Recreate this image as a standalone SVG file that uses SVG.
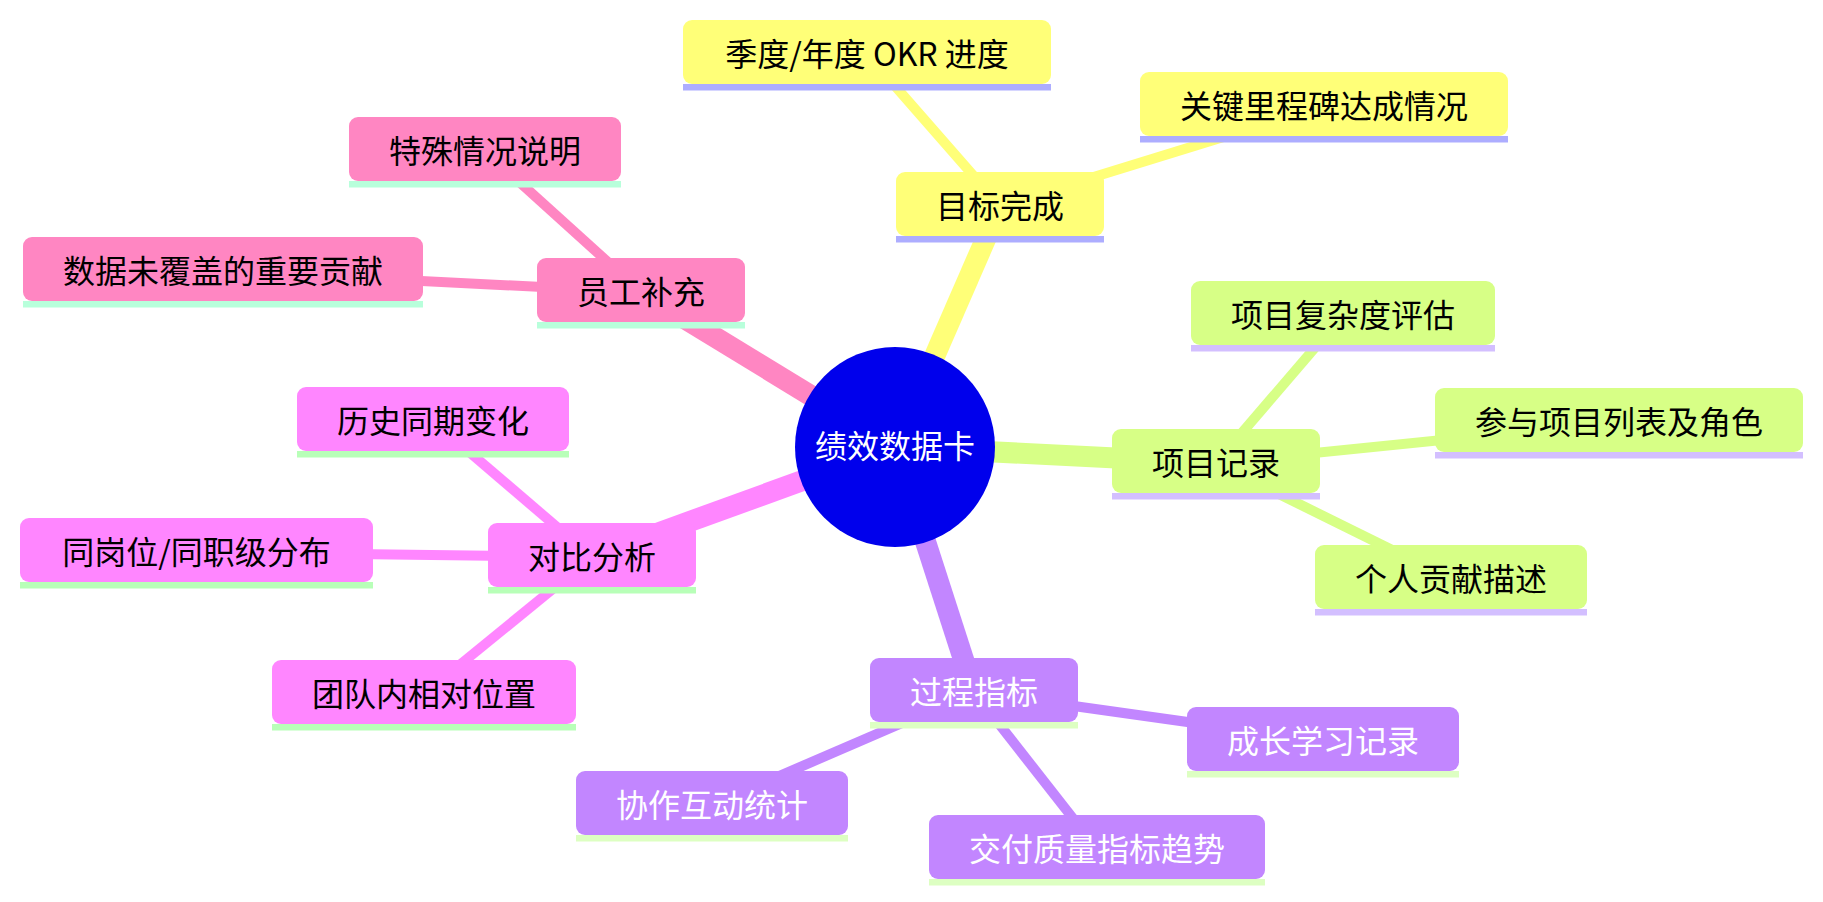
<svg xmlns="http://www.w3.org/2000/svg" width="1823" height="902" viewBox="0 0 1823 902">
<style>
text{font-family:"Noto Sans CJK SC","Noto Sans",sans-serif;font-size:32px;text-anchor:middle}
.s0{fill:#ffff78}.s0u{fill:#adadff}.e0{stroke:#ffff78}
.s1{fill:#d7ff86}.s1u{fill:#d3bfff}.e1{stroke:#d7ff86}
.s2{fill:#c286ff}.s2u{fill:#ddffc2}.e2{stroke:#c286ff}
.s3{fill:#ff86ff}.s3u{fill:#b8ffb8}.e3{stroke:#ff86ff}
.s4{fill:#ff86c2}.s4u{fill:#b8ffdb}.e4{stroke:#ff86c2}
.d0{stroke-width:21;fill:none}.d1{stroke-width:10;fill:none}
.dark{fill:#000}.light{fill:#fff}
</style>
<rect width="1823" height="902" fill="#fff"/>
<g id="connectors">
<line class="e0 d0" x1="895" y1="447" x2="1000" y2="206"/>
<line class="e1 d0" x1="895" y1="447" x2="1216" y2="463"/>
<line class="e2 d0" x1="895" y1="447" x2="974" y2="692"/>
<line class="e3 d0" x1="895" y1="447" x2="592" y2="557"/>
<line class="e4 d0" x1="895" y1="447" x2="641" y2="292"/>
<line class="e0 d1" x1="1000" y1="206" x2="867" y2="54"/>
<line class="e0 d1" x1="1000" y1="206" x2="1324" y2="106"/>
<line class="e1 d1" x1="1216" y1="463" x2="1343" y2="315"/>
<line class="e1 d1" x1="1216" y1="463" x2="1619" y2="422"/>
<line class="e1 d1" x1="1216" y1="463" x2="1451" y2="579"/>
<line class="e2 d1" x1="974" y1="692" x2="1323" y2="741"/>
<line class="e2 d1" x1="974" y1="692" x2="712" y2="805"/>
<line class="e2 d1" x1="974" y1="692" x2="1097" y2="849"/>
<line class="e3 d1" x1="592" y1="557" x2="433" y2="421"/>
<line class="e3 d1" x1="592" y1="557" x2="196" y2="552"/>
<line class="e3 d1" x1="592" y1="557" x2="424" y2="694"/>
<line class="e4 d1" x1="641" y1="292" x2="485" y2="151"/>
<line class="e4 d1" x1="641" y1="292" x2="223" y2="271"/>
</g>
<g id="root">
<circle cx="895" cy="447" r="100" fill="#0000ec"/>
<text class="light" x="895" y="458">绩效数据卡</text>
</g>
<g id="n-goal">
<rect class="s0" x="896" y="172" width="208" height="64" rx="9"/>
<rect class="s0u" x="896" y="236" width="208" height="6.5"/>
<text class="dark" x="1000" y="218">目标完成</text>
</g>
<g id="n-okr">
<rect class="s0" x="683" y="20" width="368" height="64" rx="9"/>
<rect class="s0u" x="683" y="84" width="368" height="6.5"/>
<text class="dark" x="867" y="66">季度/年度 OKR 进度</text>
</g>
<g id="n-milestone">
<rect class="s0" x="1140" y="72" width="368" height="64" rx="9"/>
<rect class="s0u" x="1140" y="136" width="368" height="6.5"/>
<text class="dark" x="1324" y="118">关键里程碑达成情况</text>
</g>
<g id="n-project">
<rect class="s1" x="1112" y="429" width="208" height="64" rx="9"/>
<rect class="s1u" x="1112" y="493" width="208" height="6.5"/>
<text class="dark" x="1216" y="475">项目记录</text>
</g>
<g id="n-complexity">
<rect class="s1" x="1191" y="281" width="304" height="64" rx="9"/>
<rect class="s1u" x="1191" y="345" width="304" height="6.5"/>
<text class="dark" x="1343" y="327">项目复杂度评估</text>
</g>
<g id="n-projlist">
<rect class="s1" x="1435" y="388" width="368" height="64" rx="9"/>
<rect class="s1u" x="1435" y="452" width="368" height="6.5"/>
<text class="dark" x="1619" y="434">参与项目列表及角色</text>
</g>
<g id="n-contrib">
<rect class="s1" x="1315" y="545" width="272" height="64" rx="9"/>
<rect class="s1u" x="1315" y="609" width="272" height="6.5"/>
<text class="dark" x="1451" y="591">个人贡献描述</text>
</g>
<g id="n-process">
<rect class="s2" x="870" y="658" width="208" height="64" rx="9"/>
<rect class="s2u" x="870" y="722" width="208" height="6.5"/>
<text class="light" x="974" y="704">过程指标</text>
</g>
<g id="n-growth">
<rect class="s2" x="1187" y="707" width="272" height="64" rx="9"/>
<rect class="s2u" x="1187" y="771" width="272" height="6.5"/>
<text class="light" x="1323" y="753">成长学习记录</text>
</g>
<g id="n-collab">
<rect class="s2" x="576" y="771" width="272" height="64" rx="9"/>
<rect class="s2u" x="576" y="835" width="272" height="6.5"/>
<text class="light" x="712" y="817">协作互动统计</text>
</g>
<g id="n-quality">
<rect class="s2" x="929" y="815" width="336" height="64" rx="9"/>
<rect class="s2u" x="929" y="879" width="336" height="6.5"/>
<text class="light" x="1097" y="861">交付质量指标趋势</text>
</g>
<g id="n-compare">
<rect class="s3" x="488" y="523" width="208" height="64" rx="9"/>
<rect class="s3u" x="488" y="587" width="208" height="6.5"/>
<text class="dark" x="592" y="569">对比分析</text>
</g>
<g id="n-history">
<rect class="s3" x="297" y="387" width="272" height="64" rx="9"/>
<rect class="s3u" x="297" y="451" width="272" height="6.5"/>
<text class="dark" x="433" y="433">历史同期变化</text>
</g>
<g id="n-peer">
<rect class="s3" x="20" y="518" width="353" height="64" rx="9"/>
<rect class="s3u" x="20" y="582" width="353" height="6.5"/>
<text class="dark" x="196.5" y="564">同岗位/同职级分布</text>
</g>
<g id="n-team">
<rect class="s3" x="272" y="660" width="304" height="64" rx="9"/>
<rect class="s3u" x="272" y="724" width="304" height="6.5"/>
<text class="dark" x="424" y="706">团队内相对位置</text>
</g>
<g id="n-supplement">
<rect class="s4" x="537" y="258" width="208" height="64" rx="9"/>
<rect class="s4u" x="537" y="322" width="208" height="6.5"/>
<text class="dark" x="641" y="304">员工补充</text>
</g>
<g id="n-special">
<rect class="s4" x="349" y="117" width="272" height="64" rx="9"/>
<rect class="s4u" x="349" y="181" width="272" height="6.5"/>
<text class="dark" x="485" y="163">特殊情况说明</text>
</g>
<g id="n-uncovered">
<rect class="s4" x="23" y="237" width="400" height="64" rx="9"/>
<rect class="s4u" x="23" y="301" width="400" height="6.5"/>
<text class="dark" x="223" y="283">数据未覆盖的重要贡献</text>
</g>
</svg>
